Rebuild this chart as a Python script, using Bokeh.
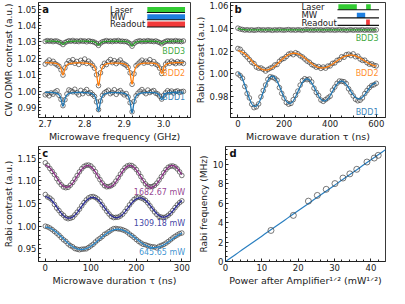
import numpy as np
from bokeh.plotting import figure
from bokeh.layouts import row, column
from bokeh.models import Range1d, FixedTicker, PrintfTickFormatter
from bokeh.embed import file_html
from bokeh.resources import INLINE
from bokeh.core.properties import value

FONT = "DejaVu Sans"

# ---------------- panel a : CW ODMR ----------------
odmr_freq = [2.700, 2.705, 2.710, 2.715, 2.720, 2.725, 2.730, 2.735, 2.740, 2.745,
             2.750, 2.755, 2.760, 2.765, 2.770, 2.775, 2.780, 2.785, 2.790, 2.795,
             2.800, 2.805, 2.810, 2.815, 2.820, 2.825, 2.830, 2.835, 2.840, 2.845,
             2.850, 2.855, 2.860, 2.865, 2.870, 2.875, 2.880, 2.885, 2.890, 2.895,
             2.900, 2.905, 2.910, 2.915, 2.920, 2.925, 2.930, 2.935, 2.940, 2.945,
             2.950, 2.955, 2.960, 2.965, 2.970, 2.975, 2.980, 2.985, 2.990, 2.995,
             3.000, 3.005, 3.010, 3.015, 3.020, 3.025, 3.030, 3.035, 3.040, 3.045, 3.050]
odmr_bdd1 = [0.9978, 0.9985, 0.9972, 0.9990, 0.9982, 0.9995, 1.0003, 0.9975, 0.9950, 0.9912,
             0.9948, 0.9983, 1.0008, 1.0002, 0.9996, 1.0012, 0.9990, 0.9978, 1.0005, 0.9985,
             0.9998, 1.0010, 0.9987, 0.9992, 0.9980, 0.9968, 0.9935, 0.9888, 0.9940, 0.9975,
             0.9990, 0.9998, 1.0006, 0.9985, 0.9993, 1.0009, 0.9981, 0.9996, 1.0004, 0.9990,
             0.9978, 0.9986, 0.9965, 0.9930, 0.9875, 0.9938, 0.9972, 0.9988, 1.0000, 1.0010,
             0.9995, 0.9985, 1.0007, 0.9992, 0.9999, 1.0004, 0.9988, 0.9983, 0.9970, 0.9952,
             0.9975, 0.9990, 1.0003, 0.9994, 1.0001, 0.9989, 0.9998, 1.0002, 0.9993, 0.9997, 0.9999]
odmr_bdd2 = [1.0165, 1.0178, 1.0190, 1.0172, 1.0182, 1.0168, 1.0160, 1.0152, 1.0130, 1.0098,
             1.0142, 1.0168, 1.0185, 1.0176, 1.0192, 1.0170, 1.0181, 1.0163, 1.0188, 1.0175,
             1.0196, 1.0169, 1.0183, 1.0171, 1.0158, 1.0140, 1.0100, 1.0034, 1.0112, 1.0150,
             1.0170, 1.0162, 1.0180, 1.0193, 1.0174, 1.0186, 1.0168, 1.0179, 1.0190, 1.0172,
             1.0165, 1.0158, 1.0145, 1.0112, 1.0042, 1.0106, 1.0155, 1.0166, 1.0178, 1.0189,
             1.0171, 1.0183, 1.0176, 1.0192, 1.0168, 1.0180, 1.0165, 1.0158, 1.0140, 1.0108,
             1.0138, 1.0165, 1.0178, 1.0170, 1.0183, 1.0174, 1.0168, 1.0180, 1.0172, 1.0177, 1.0169]
odmr_bdd3 = [1.0303, 1.0308, 1.0304, 1.0307, 1.0302, 1.0306, 1.0305, 1.0299, 1.0294, 1.0284,
             1.0296, 1.0302, 1.0307, 1.0304, 1.0309, 1.0303, 1.0306, 1.0302, 1.0308, 1.0304,
             1.0306, 1.0301, 1.0307, 1.0303, 1.0302, 1.0298, 1.0291, 1.0279, 1.0293, 1.0301,
             1.0304, 1.0308, 1.0303, 1.0306, 1.0302, 1.0307, 1.0304, 1.0309, 1.0303, 1.0305,
             1.0302, 1.0303, 1.0297, 1.0289, 1.0274, 1.0291, 1.0300, 1.0304, 1.0307, 1.0302,
             1.0306, 1.0303, 1.0308, 1.0304, 1.0305, 1.0302, 1.0306, 1.0301, 1.0296, 1.0289,
             1.0297, 1.0303, 1.0307, 1.0304, 1.0306, 1.0303, 1.0308, 1.0304, 1.0305, 1.0302, 1.0306]
# Lorentzian fit parameters (centres GHz, HWHM GHz, baselines, depths)
odmr_centers = [2.745, 2.835, 2.920, 2.995]
odmr_hwhm = [0.005]
odmr_base = [0.9995, 1.0175, 1.0305]
odmr_depth_bdd1 = [0.0085, 0.0115, 0.0125, 0.0045]
odmr_depth_bdd2 = [0.0075, 0.0140, 0.0130, 0.0065]
odmr_depth_bdd3 = [0.0020, 0.0025, 0.0030, 0.0015]
odmr_xticks = [2.7, 2.8, 2.9, 3.0]
odmr_yticks = [0.99, 1.00, 1.01, 1.02, 1.03, 1.04, 1.05]

# ---------------- panel b : Rabi for three diamonds ----------------
rabi_t = [0, 10, 20, 30, 40, 50, 60, 70, 80, 90, 100, 110, 120, 130, 140, 150, 160, 170, 180, 190,
          200, 210, 220, 230, 240, 250, 260, 270, 280, 290, 300, 310, 320, 330, 340, 350, 360, 370,
          380, 390, 400, 410, 420, 430, 440, 450, 460, 470, 480, 490, 500, 510, 520, 530, 540, 550,
          560, 570, 580, 590, 600]
rabi_bdd1 = [1.0000, 0.9985, 0.9962, 0.9890, 0.9828, 0.9790, 0.9735, 0.9705, 0.9712, 0.9738,
             0.9800, 0.9855, 0.9903, 0.9952, 0.9975, 0.9970, 0.9962, 0.9945, 0.9880, 0.9830,
             0.9788, 0.9750, 0.9735, 0.9742, 0.9775, 0.9812, 0.9850, 0.9902, 0.9942, 0.9958,
             0.9950, 0.9955, 0.9930, 0.9875, 0.9838, 0.9812, 0.9772, 0.9760, 0.9775, 0.9790,
             0.9805, 0.9858, 0.9885, 0.9918, 0.9938, 0.9935, 0.9932, 0.9915, 0.9870, 0.9840,
             0.9808, 0.9778, 0.9765, 0.9770, 0.9790, 0.9828, 0.9855, 0.9880, 0.9898, 0.9905, 0.9918]
rabi_bdd2 = [1.0222, 1.0215, 1.0190, 1.0168, 1.0148, 1.0125, 1.0102, 1.0090, 1.0060, 1.0050,
             1.0052, 1.0040, 1.0025, 1.0038, 1.0050, 1.0058, 1.0078, 1.0082, 1.0110, 1.0128,
             1.0135, 1.0152, 1.0172, 1.0180, 1.0168, 1.0185, 1.0176, 1.0158, 1.0148, 1.0130,
             1.0112, 1.0102, 1.0082, 1.0072, 1.0058, 1.0064, 1.0048, 1.0060, 1.0050, 1.0068,
             1.0070, 1.0092, 1.0096, 1.0118, 1.0125, 1.0150, 1.0145, 1.0168, 1.0172, 1.0160,
             1.0175, 1.0150, 1.0155, 1.0130, 1.0118, 1.0120, 1.0098, 1.0085, 1.0088, 1.0075, 1.0070]
rabi_bdd3 = [1.0400, 1.0392, 1.0388, 1.0383, 1.0386, 1.0382, 1.0385, 1.0381, 1.0384, 1.0387,
             1.0383, 1.0385, 1.0382, 1.0386, 1.0384, 1.0381, 1.0385, 1.0383, 1.0386, 1.0384,
             1.0382, 1.0385, 1.0387, 1.0383, 1.0385, 1.0382, 1.0386, 1.0384, 1.0381, 1.0385,
             1.0387, 1.0383, 1.0384, 1.0382, 1.0386, 1.0383, 1.0385, 1.0381, 1.0384, 1.0386,
             1.0383, 1.0385, 1.0382, 1.0384, 1.0386, 1.0383, 1.0385, 1.0381, 1.0384, 1.0386,
             1.0382, 1.0385, 1.0383, 1.0384, 1.0386, 1.0382, 1.0385, 1.0383, 1.0384, 1.0382, 1.0385]
# damped-cosine fit parameters: offset, amplitude, decay (ns), period (ns)
rabi_fit_bdd1 = [0.9855, 0.0155, 700.0, 150.0]
rabi_fit_bdd2 = [1.0112, 0.0090, 900.0, 245.0]
rabi_fit_bdd3 = [1.0384, 0.0015, 15.0]
rabi_xticks = [0, 200, 400, 600]
rabi_yticks = [0.98, 1.00, 1.02, 1.04, 1.06]

# ---------------- panel c : Rabi vs MW power ----------------
power_t = [0, 5, 10, 15, 20, 25, 30, 35, 40, 45, 50, 55, 60, 65, 70, 75, 80, 85, 90, 95, 100,
           105, 110, 115, 120, 125, 130, 135, 140, 145, 150, 155, 160, 165, 170, 175, 180, 185,
           190, 195, 200, 205, 210, 215, 220, 225, 230, 235, 240, 245, 250, 255, 260, 265, 270,
           275, 280, 285, 290, 295, 300]
power_1683 = [1.1400, 1.1345, 1.1275, 1.1210, 1.1140, 1.1050, 1.0975, 1.0915, 1.0865, 1.0850,
              1.0858, 1.0905, 1.0965, 1.1040, 1.1120, 1.1200, 1.1270, 1.1320, 1.1345, 1.1350,
              1.1330, 1.1280, 1.1205, 1.1110, 1.1030, 1.0955, 1.0895, 1.0870, 1.0875, 1.0895,
              1.0930, 1.0995, 1.1070, 1.1150, 1.1225, 1.1290, 1.1330, 1.1345, 1.1340, 1.1305,
              1.1250, 1.1175, 1.1095, 1.1005, 1.0935, 1.0885, 1.0870, 1.0875, 1.0900, 1.0950,
              1.1020, 1.1095, 1.1180, 1.1250, 1.1300, 1.1325, 1.1330, 1.1310, 1.1265, 1.1200, 1.1120]
power_1309 = [1.0700, 1.0645, 1.0620, 1.0575, 1.0480, 1.0400, 1.0345, 1.0280, 1.0240, 1.0185,
              1.0165, 1.0175, 1.0195, 1.0250, 1.0310, 1.0375, 1.0450, 1.0520, 1.0580, 1.0625,
              1.0650, 1.0655, 1.0635, 1.0600, 1.0550, 1.0470, 1.0400, 1.0330, 1.0270, 1.0215,
              1.0190, 1.0195, 1.0200, 1.0225, 1.0265, 1.0325, 1.0395, 1.0470, 1.0535, 1.0590,
              1.0625, 1.0640, 1.0625, 1.0605, 1.0570, 1.0515, 1.0450, 1.0380, 1.0315, 1.0260,
              1.0215, 1.0200, 1.0190, 1.0205, 1.0240, 1.0285, 1.0345, 1.0410, 1.0470, 1.0520, 1.0560]
power_646 = [1.0000, 0.9985, 0.9960, 0.9925, 0.9885, 0.9845, 0.9800, 0.9750, 0.9700, 0.9665,
             0.9610, 0.9570, 0.9545, 0.9505, 0.9490, 0.9480, 0.9490, 0.9495, 0.9500, 0.9530,
             0.9565, 0.9600, 0.9650, 0.9695, 0.9730, 0.9770, 0.9820, 0.9845, 0.9880, 0.9915,
             0.9945, 0.9950, 0.9940, 0.9935, 0.9920, 0.9900, 0.9870, 0.9825, 0.9790, 0.9750,
             0.9705, 0.9665, 0.9630, 0.9600, 0.9590, 0.9570, 0.9555, 0.9545, 0.9540, 0.9520,
             0.9555, 0.9575, 0.9595, 0.9625, 0.9660, 0.9700, 0.9740, 0.9775, 0.9805, 0.9835, 0.9850]
power_fit_1683 = [1.110, 0.024, 1.0e9, 93.0]
power_fit_1309 = [1.041, 0.024, 2000.0, 104.0]
power_fit_646 = [0.972, 0.026, 800.0, 160.0]
power_labels = ["1682.67 mW", "1309.18 mW", "645.65 mW"]
power_xticks = [0, 100, 200, 300]
power_yticks = [0.95, 1.00, 1.05, 1.10, 1.15]

# ---------------- panel d : Rabi frequency vs sqrt(power) ----------------
sqrt_power = [12.5, 18.65, 22.8, 25.25, 27.7, 30.1, 32.3, 34.2, 36.1, 38.9, 40.9, 42.0]
rabi_freq = [3.2, 4.75, 6.22, 6.81, 7.44, 8.03, 8.6, 9.03, 9.5, 10.25, 10.66, 10.94]
rabi_slope = [0.262]
d_xticks = [0, 10, 20, 30, 40]
d_yticks = [0, 2, 4, 6, 8, 10]

BLUE, ORANGE, GREEN = "#1f77b4", "#ff7f0e", "#2ca02c"
PURPLE, NAVY, LBLUE = "#8b2f86", "#2b2d9a", "#2a88cc"
EDGE = "#3a3a3a"


def make_fig(xr, yr, w, left, right, xlabel, ylabel, xt, xminor, yt, yminor, xfmt=None, yfmt=None):
    p = figure(width=w, height=144, x_range=Range1d(*xr), y_range=Range1d(*yr),
               output_backend="svg", toolbar_location=None, tools="",
               min_border_left=left, min_border_right=right,
               min_border_top=2, min_border_bottom=24)
    p.grid.visible = False
    p.outline_line_color = "#222222"
    p.outline_line_width = 0.9
    p.xaxis.ticker = FixedTicker(ticks=xt, minor_ticks=xminor)
    p.yaxis.ticker = FixedTicker(ticks=yt, minor_ticks=yminor)
    if xfmt:
        p.xaxis.formatter = PrintfTickFormatter(format=xfmt)
    if yfmt:
        p.yaxis.formatter = PrintfTickFormatter(format=yfmt)
    p.xaxis.axis_label = xlabel
    p.yaxis.axis_label = ylabel
    for ax in (p.xaxis[0], p.yaxis[0]):
        ax.major_tick_in = 3
        ax.major_tick_out = 0
        ax.minor_tick_in = 2
        ax.minor_tick_out = 0
        ax.axis_line_color = "#222222"
        ax.major_tick_line_color = "#222222"
        ax.minor_tick_line_color = "#222222"
        ax.major_label_text_font = FONT
        ax.major_label_text_font_size = "8.5px"
        ax.major_label_text_color = "#222222"
        ax.axis_label_text_font = FONT
        ax.axis_label_text_font_style = "normal"
        ax.axis_label_text_color = "#222222"
        ax.major_label_standoff = 2
        ax.axis_label_standoff = 1
    p.xaxis.axis_label_text_font_size = "9.5px"
    p.yaxis.axis_label_text_font_size = "9px"
    return p


def fx(p, f):
    return p.x_range.start + f * (p.x_range.end - p.x_range.start)


def fy(p, f):
    return p.y_range.start + f * (p.y_range.end - p.y_range.start)


def letter(p, s):
    p.text(x=[fx(p, 0.025)], y=[fy(p, 0.985)], text=[s], text_font=value(FONT),
           text_font_size=value("10px"), text_font_style="bold", text_baseline="top",
           text_align="left", text_color="#111111")


def pulse_row(p, name, ty, bars, color, y0, y1, lx0, lx1, tx):
    p.text(x=[fx(p, tx)], y=[fy(p, ty)], text=[name], text_font=value(FONT),
           text_font_size=value("8.5px"), text_baseline="middle", text_align="left",
           text_color="#222222")
    for b0, b1 in bars:
        p.quad(left=[fx(p, b0)], right=[fx(p, b1)], bottom=[fy(p, y0)], top=[fy(p, y1)],
               fill_color=color, line_color=None)
    p.segment(x0=[fx(p, lx0)], x1=[fx(p, lx1)], y0=[fy(p, y0)], y1=[fy(p, y0)],
              line_color="#111111", line_width=1.1)


def circles(p, x, y, size=4.6):
    p.scatter(x, y, marker="circle", size=size, fill_color=None, line_color=EDGE,
              line_width=0.8, line_alpha=0.85)


def labels(p, xs, ys, texts, colors):
    p.text(x=xs, y=ys, text=texts, text_color=colors, text_font=value(FONT),
           text_font_size=value("8px"), text_align="right", text_baseline="middle",
           text_alpha=0.9)


# ---------- panel a ----------
pa = make_fig((2.683, 3.068), (0.984, 1.054), 192, 33, 2,
              "Microwave frequency (GHz)", "CW ODMR contrast (a.u.)",
              odmr_xticks, [2.72, 2.74, 2.76, 2.78, 2.82, 2.84, 2.86, 2.88, 2.92, 2.94, 2.96, 2.98, 3.02, 3.04, 3.06],
              odmr_yticks, [0.986, 0.988, 0.992, 0.994, 0.996, 0.998, 1.002, 1.004, 1.006, 1.008,
                            1.012, 1.014, 1.016, 1.018, 1.022, 1.024, 1.026, 1.028, 1.032, 1.034,
                            1.036, 1.038, 1.042, 1.044, 1.046, 1.048, 1.052],
              xfmt="%.1f", yfmt="%.2f")
xf = np.linspace(odmr_freq[0], odmr_freq[-1], 900)
w = odmr_hwhm[0]
for base, depths, data, col in [(odmr_base[0], odmr_depth_bdd1, odmr_bdd1, BLUE),
                                (odmr_base[1], odmr_depth_bdd2, odmr_bdd2, ORANGE),
                                (odmr_base[2], odmr_depth_bdd3, odmr_bdd3, GREEN)]:
    circles(pa, odmr_freq, data)
    yfit = base - sum(d * w * w / ((xf - c) ** 2 + w * w) for d, c in zip(depths, odmr_centers))
    pa.line(xf, yfit, line_color=col, line_width=1.3)
labels(pa, [fx(pa, 0.965)] * 3, [fy(pa, 0.575), fy(pa, 0.385), fy(pa, 0.175)],
       ["BDD3", "BDD2", "BDD1"], [GREEN, ORANGE, BLUE])
letter(pa, "a")
pulse_row(pa, "Laser", 0.937, [(0.716, 0.964)], "#33cc33", 0.913, 0.961, 0.713, 0.964, 0.470)
pulse_row(pa, "MW", 0.874, [(0.716, 0.964)], "#1f7fe0", 0.850, 0.898, 0.713, 0.964, 0.470)
pulse_row(pa, "Readout", 0.811, [(0.716, 0.964)], "#f23a3a", 0.787, 0.835, 0.713, 0.964, 0.470)

# ---------- panel b ----------
pb = make_fig((-32, 640), (0.9619, 1.0624), 197, 33, 4,
              "Microwave duration \u03c4 (ns)", "Rabi contrast (a.u.)",
              rabi_xticks, [50, 100, 150, 250, 300, 350, 450, 500, 550],
              rabi_yticks, [0.965, 0.97, 0.975, 0.985, 0.99, 0.995, 1.005, 1.01, 1.015,
                            1.025, 1.03, 1.035, 1.045, 1.05, 1.055],
              yfmt="%.2f")
tf = np.linspace(rabi_t[0], rabi_t[-1], 700)
for prm, data, col in [(rabi_fit_bdd1, rabi_bdd1, BLUE), (rabi_fit_bdd2, rabi_bdd2, ORANGE)]:
    circles(pb, rabi_t, data)
    c0, a0, tau, per = prm
    pb.line(tf, c0 + a0 * np.exp(-tf / tau) * np.cos(2 * np.pi * tf / per), line_color=col, line_width=1.3)
circles(pb, rabi_t, rabi_bdd3)
pb.line(tf, rabi_fit_bdd3[0] + rabi_fit_bdd3[1] * np.exp(-tf / rabi_fit_bdd3[2]),
        line_color=GREEN, line_width=1.3)
labels(pb, [fx(pb, 0.955)] * 3, [fy(pb, 0.69), fy(pb, 0.38), fy(pb, 0.04)],
       ["BDD3", "BDD2", "BDD1"], [GREEN, ORANGE, BLUE])
letter(pb, "b")
pulse_row(pb, "Laser", 0.965, [(0.696, 0.815), (0.875, 0.905)], "#33cc33", 0.937, 0.984, 0.690, 0.958, 0.458)
pulse_row(pb, "MW", 0.890, [(0.815, 0.869)], "#1f7fe0", 0.866, 0.911, 0.690, 0.958, 0.458)
pulse_row(pb, "Readout", 0.826, [(0.875, 0.899)], "#f23a3a", 0.801, 0.853, 0.690, 0.958, 0.458)

# ---------- panel c ----------
pc = make_fig((-15, 319), (0.922, 1.176), 192, 33, 2,
              "Microwave duration \u03c4 (ns)", "Rabi contrast (a.u.)",
              power_xticks, [25, 50, 75, 125, 150, 175, 225, 250, 275],
              power_yticks, [0.93, 0.94, 0.96, 0.97, 0.98, 0.99, 1.01, 1.02, 1.03, 1.04,
                             1.06, 1.07, 1.08, 1.09, 1.11, 1.12, 1.13, 1.14, 1.16, 1.17],
              yfmt="%.2f")
tc = np.linspace(power_t[0], power_t[-1], 600)
for prm, data, col in [(power_fit_1683, power_1683, PURPLE), (power_fit_1309, power_1309, NAVY),
                       (power_fit_646, power_646, LBLUE)]:
    circles(pc, power_t, data)
    c0, a0, tau, per = prm
    pc.line(tc, c0 + a0 * np.exp(-tc / tau) * np.cos(2 * np.pi * tc / per), line_color=col, line_width=1.3)
labels(pc, [fx(pc, 0.965)] * 3, [fy(pc, 0.600), fy(pc, 0.328), fy(pc, 0.075)],
       power_labels, [PURPLE, NAVY, LBLUE])
letter(pc, "c")

# ---------- panel d ----------
pd_ = make_fig((0, 44), (0, 11.85), 197, 33, 4,
               "Power after Amplifier\u00b9\u141f\u00b2 (mW\u00b9\u141f\u00b2)", "Rabi frequency (MHz)",
               d_xticks, [2, 4, 6, 8, 12, 14, 16, 18, 22, 24, 26, 28, 32, 34, 36, 38, 42],
               d_yticks, [0.5, 1, 1.5, 2.5, 3, 3.5, 4.5, 5, 5.5, 6.5, 7, 7.5, 8.5, 9, 9.5, 10.5, 11, 11.5])
xd = np.linspace(0, 44, 50)
pd_.line(xd, rabi_slope[0] * xd, line_color="#2a7fc0", line_width=1.2)
circles(pd_, sqrt_power, rabi_freq, size=6)
letter(pd_, "d")

layout = column(row(pa, pb), row(pc, pd_))
open("out.html", "w").write(file_html(layout, INLINE))
